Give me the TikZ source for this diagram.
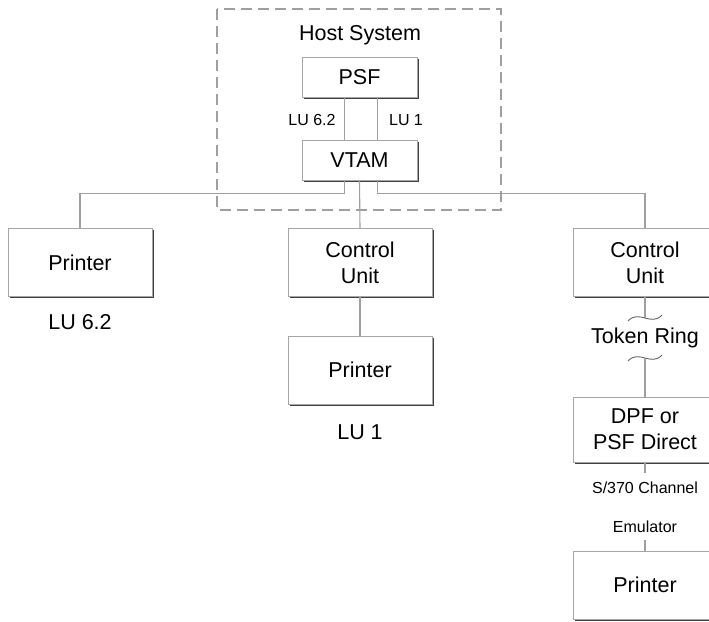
\documentclass[tikz,border=0pt]{standalone}
\usepackage{fontspec}
\setmainfont{Liberation Sans}
\usetikzlibrary{shadows,calc}

\begin{document}
\begin{tikzpicture}[x=1pt,y=-1pt,
  box/.style={draw=gray!70,line width=0.9pt,fill=white,minimum width=144pt,minimum height=68pt,inner sep=0pt,align=center,
    drop shadow={shadow xshift=1.8pt,shadow yshift=-1.8pt,fill=black!75,opacity=1},
    font=\fontsize{21.5}{26}\selectfont,text=black},
  hostbox/.style={box,minimum width=115pt,minimum height=40pt},
  big/.style={font=\fontsize{21.5}{26}\selectfont,text=black},
  small/.style={font=\fontsize{16}{19}\selectfont,text=black},
  link/.style={draw=gray!75,line width=1.1pt},
  wave/.style={draw=black!60,line width=0.9pt}]

\useasboundingbox (0,0) rectangle (709,621);

\draw[gray!75,line width=1.3pt,dash pattern=on 11pt off 6pt] (217,9) rectangle (501,210);

\node[big] (host) at (360,35) {Host System};

\node[hostbox] (psf) at (359.5,77) {PSF};

\node[hostbox] (vtam) at (359.5,160) {VTAM};

\node[small] (lu62a) at (312,120) {LU 6.2};
\node[small] (lu1a) at (406,120) {LU 1};

\node[box] (prnA) at (80,262.5) {Printer};

\node[big] (lu62b) at (80,322) {LU 6.2};

\node[box] (cuA) at (360,262.5) {Control\\Unit};

\node[box] (prnB) at (360,370) {Printer};

\node[big] (lu1b) at (360,432) {LU 1};

\node[box] (cuB) at (645,262.5) {Control\\Unit};

\coordinate (wA) at (645,318);
\coordinate (wB) at (645,358);

\node[big] (ring) at (645,338) {Token Ring};

\node[box,minimum height=65pt] (dpf) at (645,429.5) {DPF or\\PSF Direct};

\node[small] (chan) at (645,488) {S/370 Channel};

\node[small] (emu) at (645,527) {Emulator};

\node[box] (prnC) at (645,585) {Printer};

\coordinate (cA) at (645,473);
\coordinate (cB) at (645,540);

\draw[link] ([xshift=-15pt]psf.south) -- ([xshift=-15pt]vtam.north);
\draw[link] ([xshift=18pt]psf.south) -- ([xshift=18pt]vtam.north);

\draw[link] ([xshift=-15pt]vtam.south) -- ++(0,13) -| (prnA.north);
\draw[link] (vtam.south) -- (cuA.north);
\draw[link] ([xshift=18pt]vtam.south) -- ++(0,13) -| (cuB.north);
\draw[link] (cuA.south) -- (prnB.north);

\draw[link] (cuB.south) -- (wA);
\draw[wave] ($(wA)+(-17,3)$) .. controls ($(wA)+(-6,-9)$) and ($(wA)+(6,9)$) .. ($(wA)+(17,-3)$);
\draw[wave] ($(wB)+(-17,3)$) .. controls ($(wB)+(-6,-9)$) and ($(wB)+(6,9)$) .. ($(wB)+(17,-3)$);
\draw[link] (wB) -- (dpf.north);

\draw[link] (dpf.south) -- (cA);
\draw[link] (cB) -- (prnC.north);

\end{tikzpicture}
\end{document}
